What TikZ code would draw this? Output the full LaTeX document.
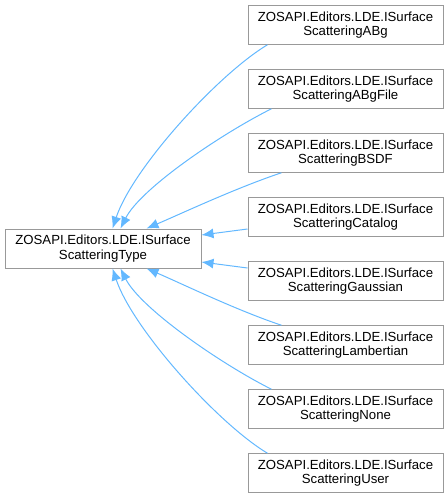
\documentclass[tikz,border=0pt]{standalone}
\usepackage{fontspec}
\setmainfont{Liberation Sans}
\usetikzlibrary{arrows.meta}
\definecolor{edgeblue}{RGB}{99,184,255}
\definecolor{boxgray}{RGB}{153,153,153}
\tikzset{every path/.style={line width=1pt}, cls/.style={draw=boxgray, fill=white, minimum width=195pt, minimum height=38.5pt, inner sep=0pt, align=center, font=\fontsize{13.2}{14.5}\selectfont}, inh/.style={draw=edgeblue, -{Latex[length=12pt,width=10pt]}}}

\begin{document}
\begin{tikzpicture}[x=1pt,y=-1pt]
  \useasboundingbox (0,0) rectangle (448,499);
  \node[cls, minimum width=196pt, minimum height=39pt] (type) at (103.0,248.5) {ZOSAPI.Editors.LDE.ISurface\\ScatteringType};
  \node[cls] (abg)   at (345.5, 25.0) {ZOSAPI.Editors.LDE.ISurface\\ScatteringABg};
  \node[cls] (abgf)  at (345.5, 89.0) {ZOSAPI.Editors.LDE.ISurface\\ScatteringABgFile};
  \node[cls] (bsdf)  at (345.5,153.0) {ZOSAPI.Editors.LDE.ISurface\\ScatteringBSDF};
  \node[cls] (cat)   at (345.5,217.0) {ZOSAPI.Editors.LDE.ISurface\\ScatteringCatalog};
  \node[cls] (gauss) at (345.5,281.0) {ZOSAPI.Editors.LDE.ISurface\\ScatteringGaussian};
  \node[cls] (lamb)  at (345.5,345.0) {ZOSAPI.Editors.LDE.ISurface\\ScatteringLambertian};
  \node[cls] (none)  at (345.5,409.0) {ZOSAPI.Editors.LDE.ISurface\\ScatteringNone};
  \node[cls] (user)  at (345.5,473.0) {ZOSAPI.Editors.LDE.ISurface\\ScatteringUser};
  \draw[inh] ([xshift=20pt]abg.south west) .. controls +(-50,30) and +(20,-60) .. ([xshift=108pt]type.north west);
  \draw[inh] ([xshift=24pt]abgf.south west) .. controls +(-50,25) and +(20,-40) .. ([xshift=116pt]type.north west);
  \draw[inh] ([xshift=34pt]bsdf.south west) .. controls +(-45,15) and +(35,-15) .. ([xshift=142pt]type.north west);
  \draw[inh] ([yshift=-12pt]cat.west) -- ([yshift=13.5pt]type.east);
  \draw[inh] ([yshift=13pt]gauss.west) -- ([yshift=-13.5pt]type.east);
  \draw[inh] ([xshift=34pt]lamb.north west) .. controls +(-45,-15) and +(35,15) .. ([xshift=142pt]type.south west);
  \draw[inh] ([xshift=24pt]none.north west) .. controls +(-50,-25) and +(20,40) .. ([xshift=116pt]type.south west);
  \draw[inh] ([xshift=20pt]user.north west) .. controls +(-50,-30) and +(20,60) .. ([xshift=108pt]type.south west);
\end{tikzpicture}
\end{document}
